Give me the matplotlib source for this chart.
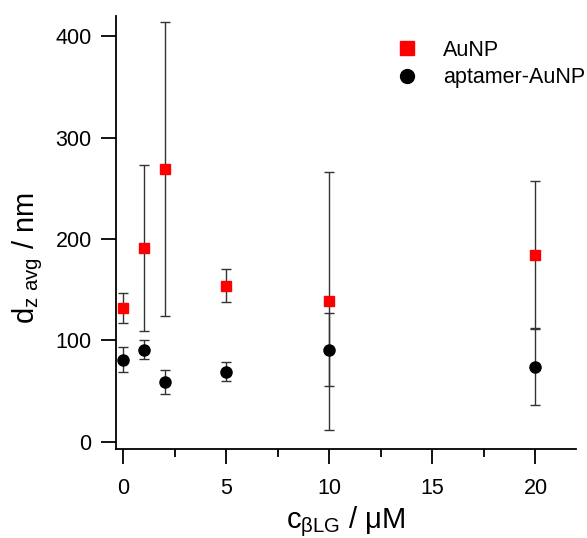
import matplotlib.pyplot as plt
from matplotlib.lines import Line2D

plt.rcParams['font.family'] = ['Liberation Sans', 'DejaVu Sans']
plt.rcParams['mathtext.default'] = 'regular'

# concentration of beta-lactoglobulin (uM)
conc = [0, 1, 2, 5, 10, 20]

# AuNP
aunp = [132, 191, 269, 154, 139, 184]
aunp_err = [15, 82, 145, 16, 127, 73]

# aptamer-AuNP
apt = [81, 91, 59, 69, 91, 74]
apt_err = [12, 9, 11.5, 9.5, 36.5, 38]

fig = plt.figure(figsize=(5.87, 5.38), dpi=100)
ax = fig.add_axes([0.1976, 0.1654, 0.7834, 0.8046])

ax.errorbar(conc, aunp, yerr=aunp_err, fmt='s', color='#ff0000', ms=7.5,
            ecolor='#333333', elinewidth=1, capsize=3.5, capthick=1, zorder=3)
ax.errorbar(conc, apt, yerr=apt_err, fmt='o', color='black', ms=8,
            ecolor='#333333', elinewidth=1, capsize=3.5, capthick=1, zorder=3)

ax.set_xlim(-0.36, 21.96)
ax.set_ylim(-7.2, 420)
ax.set_xticks([0, 5, 10, 15, 20])
ax.set_xticks([2.5, 7.5, 12.5, 17.5], minor=True)
ax.set_yticks([0, 100, 200, 300, 400])

for s in ['top', 'right']:
    ax.spines[s].set_visible(False)
for s in ['left', 'bottom']:
    ax.spines[s].set_linewidth(1.3)

ax.tick_params(axis='both', which='major', direction='out', length=11, width=1.3, labelsize=15.5, pad=6.5)
ax.tick_params(axis='x', which='minor', direction='out', length=6, width=1.3)
ax.tick_params(axis='x', which='major', pad=10)

ax.set_xlabel(r'c$_{\beta LG}$ / μM', fontsize=21, labelpad=4)
ax.set_ylabel(r'd$_{z\ avg}$ / nm', fontsize=21)
ax.yaxis.set_label_coords(-0.155, 0.44)

handles = [Line2D([], [], ls='none', marker='s', color='#ff0000', ms=10),
           Line2D([], [], ls='none', marker='o', color='black', ms=10)]
ax.legend(handles, ['AuNP', 'aptamer-AuNP'], loc='upper left',
          bbox_to_anchor=(0.66, 0.942), bbox_transform=fig.transFigure,
          frameon=False, fontsize=15.5, handletextpad=1.2, labelspacing=0.3,
          handlelength=1.0, borderaxespad=0)

fig.savefig('out.png', dpi=100)
